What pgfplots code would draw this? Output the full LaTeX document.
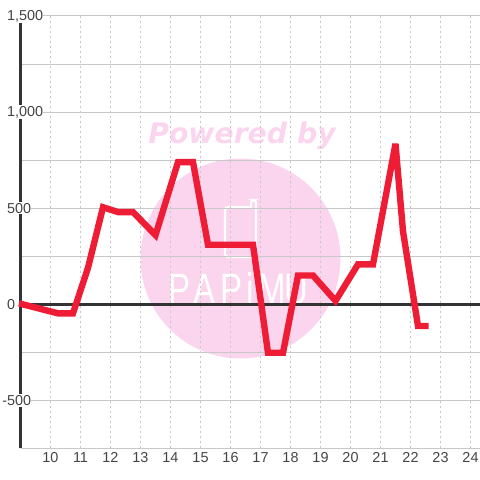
\documentclass[border=0pt]{standalone}
\usepackage{fontspec}
\setmainfont{Liberation Sans}
\newfontfamily\boldobl[BoldItalicFont={DejaVu Sans Bold Oblique}]{DejaVu Sans}
\usepackage{pgfplots}
\pgfplotsset{compat=1.18}
\definecolor{wm}{HTML}{FBD5EE}
\definecolor{gridc}{HTML}{C8C8C8}
\definecolor{axc}{HTML}{333333}
\definecolor{txt}{HTML}{444444}
\definecolor{red1}{HTML}{EE1C35}
\begin{document}
\begin{tikzpicture}[x=1bp,y=1bp]
\useasboundingbox (0,0) rectangle (480,480);
% watermark
\fill[wm] (240.5,221.5) circle (100);
\node[anchor=center,text=wm,inner sep=0,font=\fontsize{28.3bp}{29bp}\selectfont\bfseries\itshape\boldobl] at (242,344.5) {Powered by};
\draw[white,line width=2.2bp,rounded corners=3bp] (251,273) -- (225,273) -- (225,223) -- (256,223) -- (256,280) -- (251,280) -- (251,272);
\foreach \l/\px in {P/180,A/205,P/232,i/250,M/272,U/296}{
  \node[text=white,inner sep=0,anchor=base,font=\fontsize{44bp}{44bp}\selectfont,xscale=.75] at (\px,175) {\l};
}
\begin{axis}[
  at={(20.5bp,31.5bp)},anchor=south west,
  scale only axis,width=459.5bp,height=432.5bp,
  xmin=9,xmax=24.317,ymin=-750,ymax=1500,
  clip=false,
  axis x line=bottom,axis y line=left,
  axis line style={-},
  x axis line style={gridc,line width=1bp},
  y axis line style={axc,line width=3bp},
  xtick={10,...,24},
  ytick={-500,0,500,1000,1500},
  yticklabels={\llap{-}500,0,500,{1,000},{1,500}},
  minor ytick={-750,-250,250,750,1250},
  major tick length=0pt,minor tick length=0pt,
  xmajorgrids,ymajorgrids,yminorgrids,
  x grid style={gridc,line width=1bp,dash pattern=on 2.5bp off 2.5bp},
  y grid style={gridc,line width=1bp},
  minor y grid style={gridc,line width=1bp},
  /pgf/number format/assume math mode=true,
  tick label style={text=txt,font=\fontsize{14.4bp}{14.4bp}\selectfont},
  x tick label style={yshift=-4bp,inner sep=0pt},
  y tick label style={anchor=west,xshift=-13.5bp,fill=white,inner xsep=0pt,inner ysep=1bp},
  tick style={draw=none},
]
\addplot[axc,line width=3bp,forget plot] coordinates {(9,0) (24.317,0)};
\addplot[red1,line width=6.4bp,miter limit=2,line cap=butt,forget plot] coordinates {
 (8.95,5) (10.25,-47) (10.75,-47) (11.25,190) (11.75,505) (12.25,480) (12.75,480)
 (13.5,360) (14.25,740) (14.75,740) (15.25,310) (16,310) (16.75,310) (17.25,-252)
 (17.75,-252) (18.25,150) (18.75,150) (19.5,18) (20.25,208) (20.75,208) (21.5,835)
 (21.75,380) (22.25,-113) (22.6,-113)};
\end{axis}
\end{tikzpicture}
\end{document}
